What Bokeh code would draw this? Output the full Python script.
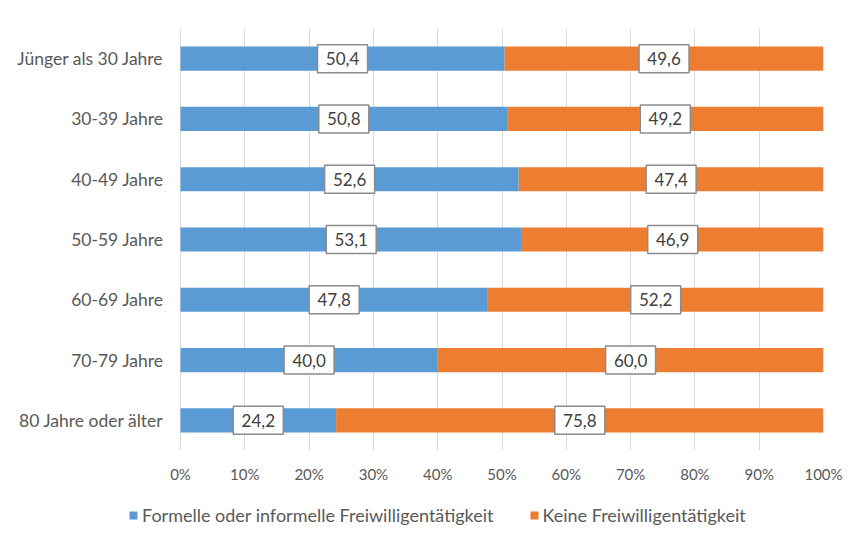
from bokeh.plotting import figure
from bokeh.layouts import column
from bokeh.models import ColumnDataSource, FixedTicker, Legend, LegendItem, Range1d, FactorRange
from bokeh.core.properties import value
from bokeh.embed import file_html
from bokeh.resources import INLINE

categories = ["Jünger als 30 Jahre", "30-39 Jahre", "40-49 Jahre", "50-59 Jahre",
              "60-69 Jahre", "70-79 Jahre", "80 Jahre oder älter"]
formell = [50.4, 50.8, 52.6, 53.1, 47.8, 40.0, 24.2]
keine = [49.6, 49.2, 47.4, 46.9, 52.2, 60.0, 75.8]
series_names = ["Formelle oder informelle Freiwilligentätigkeit", "Keine Freiwilligentätigkeit"]
x_ticks = [0, 10, 20, 30, 40, 50, 60, 70, 80, 90, 100]
x_tick_labels = ["0%", "10%", "20%", "30%", "40%", "50%", "60%", "70%", "80%", "90%", "100%"]

BLUE = "#5B9BD5"
ORANGE = "#ED7D31"
FONT = "Lato"

# layout (screen pixels)
FRAME_LEFT = 128      # frame starts left of the 0% line so the legend row can use this space
ZERO_X = 180          # pixel position of 0 %
FRAME_RIGHT = 823
x_start = -(ZERO_X - FRAME_LEFT) / (FRAME_RIGHT - ZERO_X) * 100

def fmt(v):
    return f"{v:.1f}".replace(".", ",")

src = ColumnDataSource(dict(
    cat=categories,
    formell=formell,
    keine=keine,
    lab_f=[fmt(v) for v in formell],
    lab_k=[fmt(v) for v in keine],
    pos_f=[v / 2 for v in formell],
    pos_k=[f + k / 2 for f, k in zip(formell, keine)],
    zero=[0] * len(categories),
))

fig = figure(width=851, height=490, output_backend="svg", toolbar_location=None,
             y_range=FactorRange(*list(reversed(categories)), range_padding=0),
             x_range=Range1d(x_start, 100),
             min_border_left=FRAME_LEFT, min_border_right=851 - FRAME_RIGHT,
             min_border_top=28, min_border_bottom=40)

fig.hbar_stack(["formell", "keine"], y="cat", height=0.4, color=[BLUE, ORANGE],
               source=src, line_color=None)

for xcol, lcol in (("pos_f", "lab_f"), ("pos_k", "lab_k")):
    fig.rect(x=xcol, y="cat", width=50, height=28, width_units="screen", height_units="screen",
             source=src, fill_color="white", line_color="#8c8c8c", line_width=1.5)
    fig.text(x=xcol, y="cat", text=lcol, source=src, text_align="center", text_baseline="middle",
             text_font=value(FONT), text_font_size="17px", text_color="#404040")

fig.outline_line_color = None
fig.ygrid.grid_line_color = None
fig.xgrid.grid_line_color = "#D9D9D9"
fig.xgrid.grid_line_width = 1
fig.xaxis.ticker = FixedTicker(ticks=x_ticks)
fig.xaxis.major_label_overrides = {t: l for t, l in zip(x_ticks, x_tick_labels)}
for ax in (fig.xaxis, fig.yaxis):
    ax.axis_line_color = None
    ax.major_tick_line_color = None
    ax.minor_tick_line_color = None
    ax.major_label_text_font = FONT
    ax.major_label_text_color = "#595959"
fig.xaxis.major_label_text_font_size = "15px"
fig.yaxis.major_label_text_font_size = "17.5px"
fig.xaxis.major_label_standoff = 8
fig.yaxis.major_label_standoff = -41

# legend strip below the chart
leg = figure(width=851, height=38, output_backend="svg", toolbar_location=None,
             x_range=Range1d(0, 100), y_range=FactorRange(*categories),
             x_axis_type=None, y_axis_type=None,
             min_border_left=FRAME_LEFT, min_border_right=851 - FRAME_RIGHT,
             min_border_top=0, min_border_bottom=0)
leg.outline_line_color = None
leg.xgrid.visible = False
leg.ygrid.visible = False
lr1 = leg.hbar(y="cat", left="zero", right="zero", height=0, color=BLUE, line_color=None, source=src)
lr2 = leg.hbar(y="cat", left="zero", right="zero", height=0, color=ORANGE, line_color=None, source=src)

legend = Legend(items=[LegendItem(label=series_names[0], renderers=[lr1]),
                       LegendItem(label=series_names[1], renderers=[lr2])],
                orientation="horizontal", location=(0, 2),
                glyph_width=10, glyph_height=10, label_standoff=4, spacing=35,
                padding=0, margin=0, border_line_color=None, background_fill_alpha=0,
                label_text_font=FONT, label_text_font_size="18px", label_text_color="#595959")
leg.add_layout(legend)

p = column(fig, leg, spacing=0)
open("out.html", "w").write(file_html(p, INLINE))
